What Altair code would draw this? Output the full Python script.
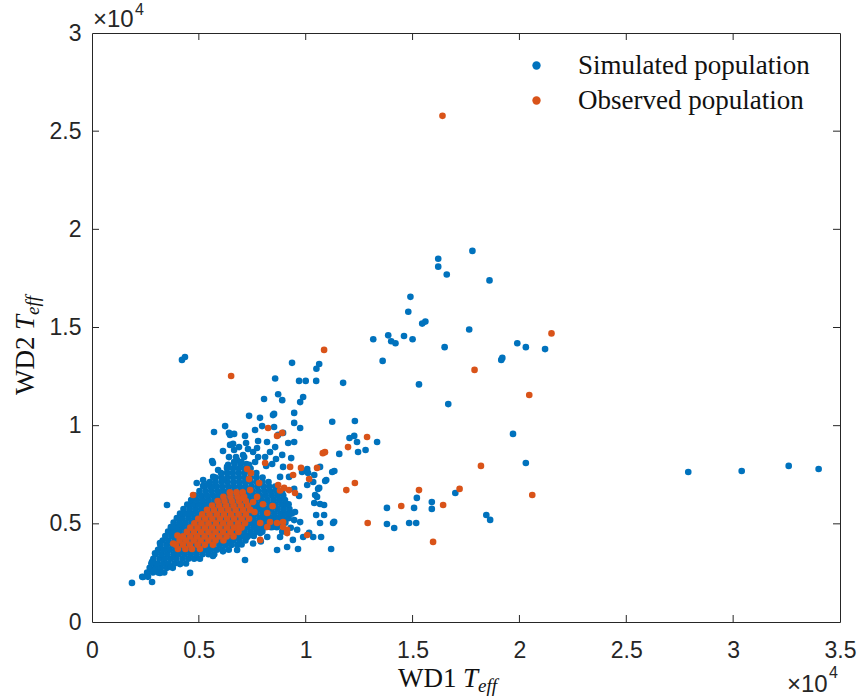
import altair as alt
import pandas as pd

# All temperatures in units of 1e4 K (axis shows x10^4)
# Simulated population: dense core, rows of (WD2 Teff, [WD1 Teff ...])
SIM_CORE_ROWS = [
    (0.23, [0.235, 0.262]),
    (0.252, [0.258, 0.285, 0.31, 0.338]),
    (0.276, [0.27, 0.296, 0.322, 0.351, 0.378]),
    (0.298, [0.278, 0.305, 0.333, 0.358, 0.386, 0.412, 0.44]),
    (0.322, [0.287, 0.316, 0.341, 0.369, 0.395, 0.424, 0.451, 0.478, 0.505]),
    (0.345, [0.298, 0.325, 0.352, 0.381, 0.406, 0.434, 0.462, 0.489, 0.517, 0.545, 0.572]),
    (0.368, [0.309, 0.337, 0.364, 0.391, 0.419, 0.446, 0.474, 0.501, 0.53, 0.556, 0.584, 0.611, 0.64]),
    (0.392, [0.32, 0.348, 0.375, 0.403, 0.43, 0.457, 0.486, 0.513, 0.54, 0.568, 0.596, 0.623, 0.652, 0.68]),
    (0.415, [0.331, 0.358, 0.387, 0.414, 0.441, 0.469, 0.497, 0.524, 0.552, 0.579, 0.607, 0.635, 0.662, 0.69, 0.718]),
    (0.438, [0.343, 0.371, 0.398, 0.426, 0.453, 0.481, 0.508, 0.536, 0.563, 0.591, 0.619, 0.646, 0.674, 0.702, 0.73, 0.757]),
    (0.46, [0.356, 0.384, 0.41, 0.438, 0.466, 0.493, 0.521, 0.548, 0.576, 0.603, 0.631, 0.659, 0.686, 0.714, 0.742, 0.769, 0.797]),
    (0.483, [0.369, 0.397, 0.424, 0.451, 0.479, 0.506, 0.534, 0.561, 0.589, 0.617, 0.644, 0.672, 0.7, 0.727, 0.755, 0.782, 0.81, 0.838, 0.865]),
    (0.506, [0.382, 0.41, 0.437, 0.465, 0.492, 0.52, 0.547, 0.575, 0.602, 0.63, 0.658, 0.685, 0.713, 0.741, 0.768, 0.796, 0.823, 0.851, 0.879, 0.905]),
    (0.529, [0.397, 0.424, 0.452, 0.479, 0.507, 0.534, 0.562, 0.589, 0.617, 0.645, 0.672, 0.7, 0.728, 0.755, 0.783, 0.81, 0.838, 0.866, 0.893, 0.92]),
    (0.552, [0.412, 0.44, 0.467, 0.495, 0.522, 0.55, 0.577, 0.605, 0.632, 0.66, 0.688, 0.715, 0.743, 0.77, 0.798, 0.826, 0.853, 0.881, 0.908, 0.935]),
    (0.575, [0.428, 0.456, 0.483, 0.511, 0.538, 0.566, 0.593, 0.621, 0.648, 0.676, 0.703, 0.731, 0.759, 0.786, 0.814, 0.841, 0.869, 0.897, 0.924]),
    (0.598, [0.446, 0.473, 0.501, 0.528, 0.556, 0.583, 0.611, 0.638, 0.666, 0.693, 0.721, 0.748, 0.776, 0.803, 0.831, 0.859, 0.886, 0.913]),
    (0.621, [0.464, 0.491, 0.519, 0.546, 0.574, 0.601, 0.629, 0.656, 0.684, 0.711, 0.739, 0.766, 0.794, 0.821, 0.849, 0.876, 0.903]),
    (0.644, [0.483, 0.511, 0.538, 0.566, 0.593, 0.621, 0.648, 0.676, 0.703, 0.731, 0.758, 0.786, 0.813, 0.841, 0.868, 0.895]),
    (0.667, [0.503, 0.531, 0.558, 0.586, 0.613, 0.641, 0.668, 0.696, 0.723, 0.751, 0.778, 0.806, 0.833, 0.861]),
    (0.69, [0.527, 0.554, 0.582, 0.609, 0.637, 0.664, 0.692, 0.719, 0.747, 0.774, 0.802, 0.829, 0.857]),
    (0.713, [0.551, 0.578, 0.606, 0.633, 0.661, 0.688, 0.716, 0.743, 0.771, 0.798, 0.826]),
    (0.736, [0.578, 0.605, 0.633, 0.66, 0.688, 0.715, 0.743, 0.77, 0.798]),
    (0.759, [0.604, 0.632, 0.659, 0.687, 0.714, 0.742, 0.769]),
    (0.782, [0.632, 0.66, 0.687, 0.715, 0.742]),
    (0.805, [0.667, 0.695, 0.722]),
]

# Simulated population: scattered points (WD1 Teff, WD2 Teff)
SIM_SPARSE = [
    (0.187, 0.199), (0.239, 0.229), (0.281, 0.204), (0.29, 0.26), (0.318, 0.25),
    (0.459, 0.25), (0.370, 0.28), (0.412, 0.295), (0.716, 0.316), (0.566, 0.336),
    (0.613, 0.36), (0.679, 0.367), (0.538, 0.382), (0.351, 0.596),
    (0.754, 0.40), (0.82, 0.433), (0.866, 0.367), (0.913, 0.382), (0.88, 0.433),
    (0.94, 0.418), (0.787, 0.453), (0.847, 0.484), (0.726, 0.433), (0.679, 0.433),
    (0.70, 0.395), (0.79, 0.41), (0.64, 0.40), (0.89, 0.46),
    (0.41, 0.50), (0.375, 0.484), (0.318, 0.402), (0.295, 0.35), (0.281, 0.306),
    (0.49, 0.708), (0.52, 0.723), (0.56, 0.69), (0.567, 0.739), (0.613, 0.723),
    (0.632, 0.79), (0.566, 0.81), (0.679, 0.825), (0.707, 0.85), (0.754, 0.866),
    (0.421, 1.335), (0.435, 1.35), (0.52, 0.693), (0.543, 0.703),
    (0.562, 0.82), (0.613, 0.871), (0.641, 0.84), (0.674, 0.84), (0.712, 0.84),
    (0.777, 0.84), (0.81, 0.84), (0.861, 0.83), (0.843, 0.805), (0.89, 0.851),
    (0.932, 0.835), (0.894, 0.79), (0.922, 0.739), (0.88, 0.739), (0.815, 0.795),
    (0.763, 0.815), (0.735, 0.80), (0.698, 0.815), (0.665, 0.815), (0.637, 0.80),
    (0.59, 0.774), (0.688, 0.891), (0.665, 0.876), (0.73, 0.881), (0.772, 0.886),
    (0.777, 0.922), (0.819, 0.917), (0.857, 0.891), (0.833, 0.866), (0.721, 0.912),
    (0.646, 0.902), (0.66, 0.907), (0.623, 0.998), (0.641, 0.963), (0.646, 0.953),
    (0.571, 0.968), (0.716, 0.948), (0.763, 0.978), (0.665, 0.958), (0.796, 0.998),
    (0.735, 1.05), (0.786, 1.04), (0.852, 1.06), (0.847, 1.054), (0.946, 1.065),
    (0.918, 0.912), (0.946, 0.917), (0.852, 0.993), (0.894, 0.963), (0.871, 0.953),
    (0.946, 1.014), (0.974, 0.988), (0.857, 1.24), (0.969, 1.228), (1.00, 1.228),
    (1.049, 1.228), (1.175, 1.218), (0.871, 1.16), (0.89, 1.13), (0.805, 1.136),
    (0.988, 1.146), (0.974, 1.12), (0.936, 1.32), (1.063, 1.314), (1.05, 1.29),
    (1.124, 1.02), (1.23, 1.024), (1.227, 0.948), (1.205, 0.937), (1.24, 0.917),
    (1.334, 0.917), (1.28, 0.876), (1.245, 0.866), (1.157, 0.856),
    (1.124, 0.764), (1.134, 0.769), (1.096, 0.723), (1.063, 0.683), (1.044, 0.647),
    (1.04, 0.606), (1.067, 0.601), (1.049, 0.545), (1.086, 0.545), (1.067, 0.504),
    (1.128, 0.504), (1.133, 0.51), (0.983, 0.764), (1.007, 0.779), (1.04, 0.749),
    (1.067, 0.79), (1.011, 0.759), (1.035, 0.713), (1.007, 0.698), (1.058, 0.678),
    (1.091, 0.718), (1.053, 0.637), (1.086, 0.596), (0.946, 0.678), (0.969, 0.642),
    (0.89, 0.662), (0.946, 0.519), (0.974, 0.509), (1.016, 0.454), (1.035, 0.433),
    (1.072, 0.433), (0.988, 0.433), (0.964, 0.372), (1.119, 0.372),
    (0.92, 0.60), (0.95, 0.56), (0.93, 0.48), (0.96, 0.47),
    (1.316, 1.44), (1.386, 1.46), (1.40, 1.43), (1.42, 1.42), (1.46, 1.457),
    (1.50, 1.44), (1.36, 1.33), (1.49, 1.656), (1.48, 1.58), (1.545, 1.52),
    (1.56, 1.53), (1.53, 1.21), (1.667, 1.11), (1.765, 1.49), (1.65, 1.40),
    (1.62, 1.85), (1.62, 1.81), (1.66, 1.77), (1.78, 1.89), (1.86, 1.74),
    (1.99, 1.42), (2.03, 1.40), (2.12, 1.39), (1.915, 1.335), (1.92, 1.345),
    (1.97, 0.958), (2.03, 0.81), (1.70, 0.657), (1.52, 0.632), (1.59, 0.611),
    (1.59, 0.576), (1.38, 0.581), (1.507, 0.581), (1.845, 0.545), (1.863, 0.52),
    (1.38, 0.499), (1.414, 0.479), (1.484, 0.504), (1.517, 0.504),
    (2.79, 0.764), (3.04, 0.769), (3.26, 0.795), (3.40, 0.779),
]

# Observed population: dense core rows of (WD2 Teff, [WD1 Teff ...])
OBS_CORE_ROWS = [
    (0.372, [0.402, 0.437, 0.468, 0.505]),
    (0.393, [0.392, 0.425, 0.458, 0.494, 0.528, 0.566]),
    (0.415, [0.41, 0.441, 0.476, 0.508, 0.545, 0.578, 0.615]),
    (0.436, [0.426, 0.46, 0.492, 0.527, 0.561, 0.596, 0.63, 0.662]),
    (0.459, [0.444, 0.477, 0.511, 0.545, 0.578, 0.613, 0.648, 0.685]),
    (0.481, [0.46, 0.494, 0.528, 0.561, 0.596, 0.631, 0.664, 0.70]),
    (0.503, [0.479, 0.512, 0.545, 0.58, 0.614, 0.647, 0.683, 0.716]),
    (0.526, [0.497, 0.53, 0.563, 0.598, 0.632, 0.665, 0.70, 0.735]),
    (0.548, [0.516, 0.55, 0.584, 0.617, 0.651, 0.686, 0.72]),
    (0.571, [0.538, 0.571, 0.605, 0.638, 0.672, 0.707, 0.74]),
    (0.593, [0.562, 0.595, 0.628, 0.662, 0.696, 0.73]),
    (0.616, [0.588, 0.62, 0.654, 0.687, 0.72]),
    (0.638, [0.615, 0.648, 0.681, 0.712]),
    (0.66, [0.645, 0.676, 0.705]),
]

# Observed population: scattered points (WD1 Teff, WD2 Teff)
OBS_SPARSE = [
    (1.64, 2.578), (2.15, 1.47), (1.086, 1.386), (0.651, 1.253), (1.79, 1.284),
    (2.046, 1.156), (0.824, 0.988), (0.866, 0.948), (0.89, 0.963), (1.287, 0.942),
    (1.198, 0.891), (1.08, 0.86), (1.09, 0.865), (1.82, 0.795), (1.23, 0.708),
    (1.19, 0.672), (1.53, 0.672), (1.72, 0.678), (2.06, 0.647), (1.447, 0.591),
    (1.643, 0.596), (1.29, 0.504), (1.596, 0.408), (0.913, 0.453), (0.894, 0.509),
    (1.007, 0.443), (0.941, 0.749), (0.978, 0.785), (0.927, 0.79), (1.053, 0.785),
    (1.016, 0.728), (0.899, 0.683), (0.922, 0.672), (0.95, 0.657), (0.871, 0.698),
    (0.782, 0.708), (0.726, 0.779), (0.744, 0.759), (0.735, 0.728), (0.81, 0.81),
    (0.473, 0.647), (0.38, 0.40), (0.40, 0.44),
    (0.69, 0.48), (0.82, 0.555), (0.88, 0.67), (0.913, 0.469), (0.82, 0.484),
    (0.787, 0.418), (0.772, 0.637), (0.74, 0.672), (0.707, 0.632), (0.754, 0.611),
    (0.833, 0.509), (0.866, 0.504), (0.894, 0.484), (0.787, 0.504), (0.76, 0.56),
    (0.80, 0.60), (0.845, 0.59),
]

SERIES = ["Simulated population", "Observed population"]
COLORS = ["#0072BD", "#D95319"]
X_TICKS = [0, 0.5, 1, 1.5, 2, 2.5, 3, 3.5]
Y_TICKS = [0, 0.5, 1, 1.5, 2, 2.5, 3]

W, H = 748, 589
AX = "#262626"
SANS = "Liberation Sans"
SERIF = "Liberation Serif"

rows = []
for yv, xs in SIM_CORE_ROWS:
    rows += [{"x": xv, "y": yv, "pop": SERIES[0]} for xv in xs]
rows += [{"x": xv, "y": yv, "pop": SERIES[0]} for xv, yv in SIM_SPARSE]
for yv, xs in OBS_CORE_ROWS:
    rows += [{"x": xv, "y": yv, "pop": SERIES[1]} for xv in xs]
rows += [{"x": xv, "y": yv, "pop": SERIES[1]} for xv, yv in OBS_SPARSE]
for i, r in enumerate(rows):
    r["order"] = i
df = pd.DataFrame(rows)

xscale = alt.Scale(domain=[0, 3.5], nice=False, zero=False)
yscale = alt.Scale(domain=[0, 3], nice=False, zero=False)

points = alt.Chart(df).mark_circle(size=44, opacity=1).encode(
    x=alt.X("x:Q", scale=xscale, title=None,
            axis=alt.Axis(values=X_TICKS, format="~g", ticks=False, domain=False, grid=False,
                          labelFont=SANS, labelFontSize=23, labelColor=AX,
                          labelPadding=17, labelFlush=False)),
    y=alt.Y("y:Q", scale=yscale, title=None,
            axis=alt.Axis(values=Y_TICKS, format="~g", ticks=False, domain=False, grid=False,
                          labelFont=SANS, labelFontSize=23, labelColor=AX,
                          labelPadding=11, labelFlush=False)),
    color=alt.Color("pop:N", scale=alt.Scale(domain=SERIES, range=COLORS),
                    legend=alt.Legend(title=None, orient="none", legendX=431, legendY=19,
                                      symbolType="circle", symbolSize=70, symbolStrokeWidth=0,
                                      labelFont=SERIF, labelFontSize=27, labelLimit=500,
                                      labelColor="#111", labelOffset=28, rowPadding=7,
                                      padding=0)),
    order=alt.Order("order:Q"),
)

xt = pd.DataFrame({"v": X_TICKS[1:-1]})
yt = pd.DataFrame({"v": Y_TICKS[1:-1]})
tick_b = alt.Chart(xt).mark_rule(color=AX, strokeWidth=1).encode(
    x=alt.X("v:Q", scale=xscale), y=alt.value(H), y2=alt.value(H - 7))
tick_t = alt.Chart(xt).mark_rule(color=AX, strokeWidth=1).encode(
    x=alt.X("v:Q", scale=xscale), y=alt.value(0), y2=alt.value(7))
tick_l = alt.Chart(yt).mark_rule(color=AX, strokeWidth=1).encode(
    y=alt.Y("v:Q", scale=yscale), x=alt.value(0), x2=alt.value(7))
tick_r = alt.Chart(yt).mark_rule(color=AX, strokeWidth=1).encode(
    y=alt.Y("v:Q", scale=yscale), x=alt.value(W), x2=alt.value(W - 7))


def txt(s, x, y, size=24, font=SANS, style="normal", color=AX, angle=0):
    return alt.Chart(pd.DataFrame({"t": [s]})).mark_text(
        font=font, fontSize=size, fontStyle=style, color=color, angle=angle,
        align="left", baseline="alphabetic"
    ).encode(x=alt.value(x), y=alt.value(y), text="t:N")


annots = [
    # exponent labels
    txt("\u00d710", 1, -6), txt("4", 43, -18, size=16),
    txt("\u00d710", 695, 659), txt("4", 737, 645, size=16),
    # x title: WD1 T_eff
    txt("WD1 ", 306, 654, size=27, font=SERIF, color="#111"),
    txt("T", 371, 654, size=27, font=SERIF, style="italic", color="#111"),
    txt("eff", 386, 659, size=19, font=SERIF, style="italic", color="#111"),
    # y title: WD2 T_eff (rotated)
    txt("WD2 ", -58, 362, size=27, font=SERIF, color="#111", angle=270),
    txt("T", -58, 297, size=27, font=SERIF, style="italic", color="#111", angle=270),
    txt("eff", -53, 282, size=19, font=SERIF, style="italic", color="#111", angle=270),
]

chart = alt.layer(points, tick_b, tick_t, tick_l, tick_r, *annots).properties(
    width=W, height=H,
    autosize=alt.AutoSizeParams(type="none"),
    padding={"left": 92, "top": 33, "right": 18, "bottom": 78},
    background="white",
).configure_view(stroke=AX, strokeWidth=1)

chart.save("out.html", embed_options={"renderer": "svg", "actions": False})
